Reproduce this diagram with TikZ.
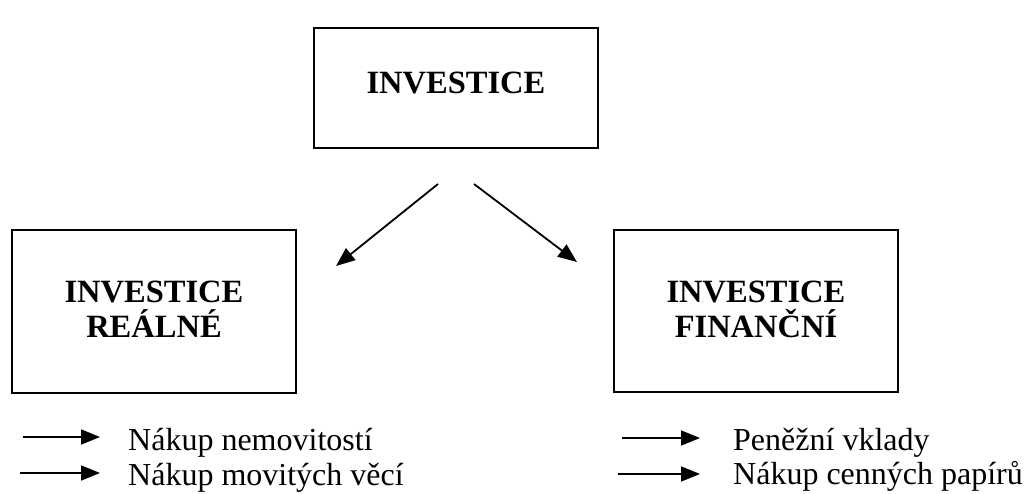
\documentclass[tikz,border=0pt]{standalone}
\usepackage{fontspec}
\setmainfont{Liberation Serif}
\usetikzlibrary{arrows.meta}

\begin{document}
\begin{tikzpicture}[x=1pt, y=-1pt,
	box/.style={draw, line width=2pt, minimum width=284pt, align=center, font=\fontsize{32.5}{35}\selectfont\bfseries},
	item/.style={anchor=base west, inner sep=0pt, font=\fontsize{32}{35}\selectfont},
	arr/.style={line width=1.8pt, -{Triangle[length=19pt, width=15pt]}}]
	\useasboundingbox (0,0) rectangle (1031,494);

	% Boxes
	\node[box, minimum height=120pt, text depth=10pt] (inv) at (456,88) {INVESTICE};
	\node[box, minimum height=163pt, text depth=4pt] (real) at (154,311.5) {INVESTICE\\REÁLNÉ};
	\node[box, minimum height=162pt, text depth=4pt] (fin) at (756,311) {INVESTICE\\FINANČNÍ};

	% Arrows from the top box
	\coordinate (a1) at ([shift={(-18,35)}]inv.south);
	\coordinate (a2) at ([shift={(39,37)}]real.north east);
	\coordinate (b1) at ([shift={(18,35)}]inv.south);
	\coordinate (b2) at ([shift={(-36,33)}]fin.north west);
	\draw[arr] (a1) -- (a2);
	\draw[arr] (b1) -- (b2);

	% Real investments
	\node[item] (r1) at (128,450) {Nákup nemovitostí};
	\node[item] (r2) at (128,485) {Nákup movitých věcí};
	\draw[arr] ([shift={(-105,-13)}]r1.base west) -- ([shift={(-28,-13)}]r1.base west);
	\draw[arr] ([shift={(-108,-12)}]r2.base west) -- ([shift={(-28,-12)}]r2.base west);

	% Financial investments
	\node[item] (f1) at (733,450) {Peněžní vklady};
	\node[item] (f2) at (733,484) {Nákup cenných papírů};
	\draw[arr] ([shift={(-111,-12)}]f1.base west) -- ([shift={(-33,-12)}]f1.base west);
	\draw[arr] ([shift={(-115,-10)}]f2.base west) -- ([shift={(-33,-10)}]f2.base west);
\end{tikzpicture}
\end{document}
